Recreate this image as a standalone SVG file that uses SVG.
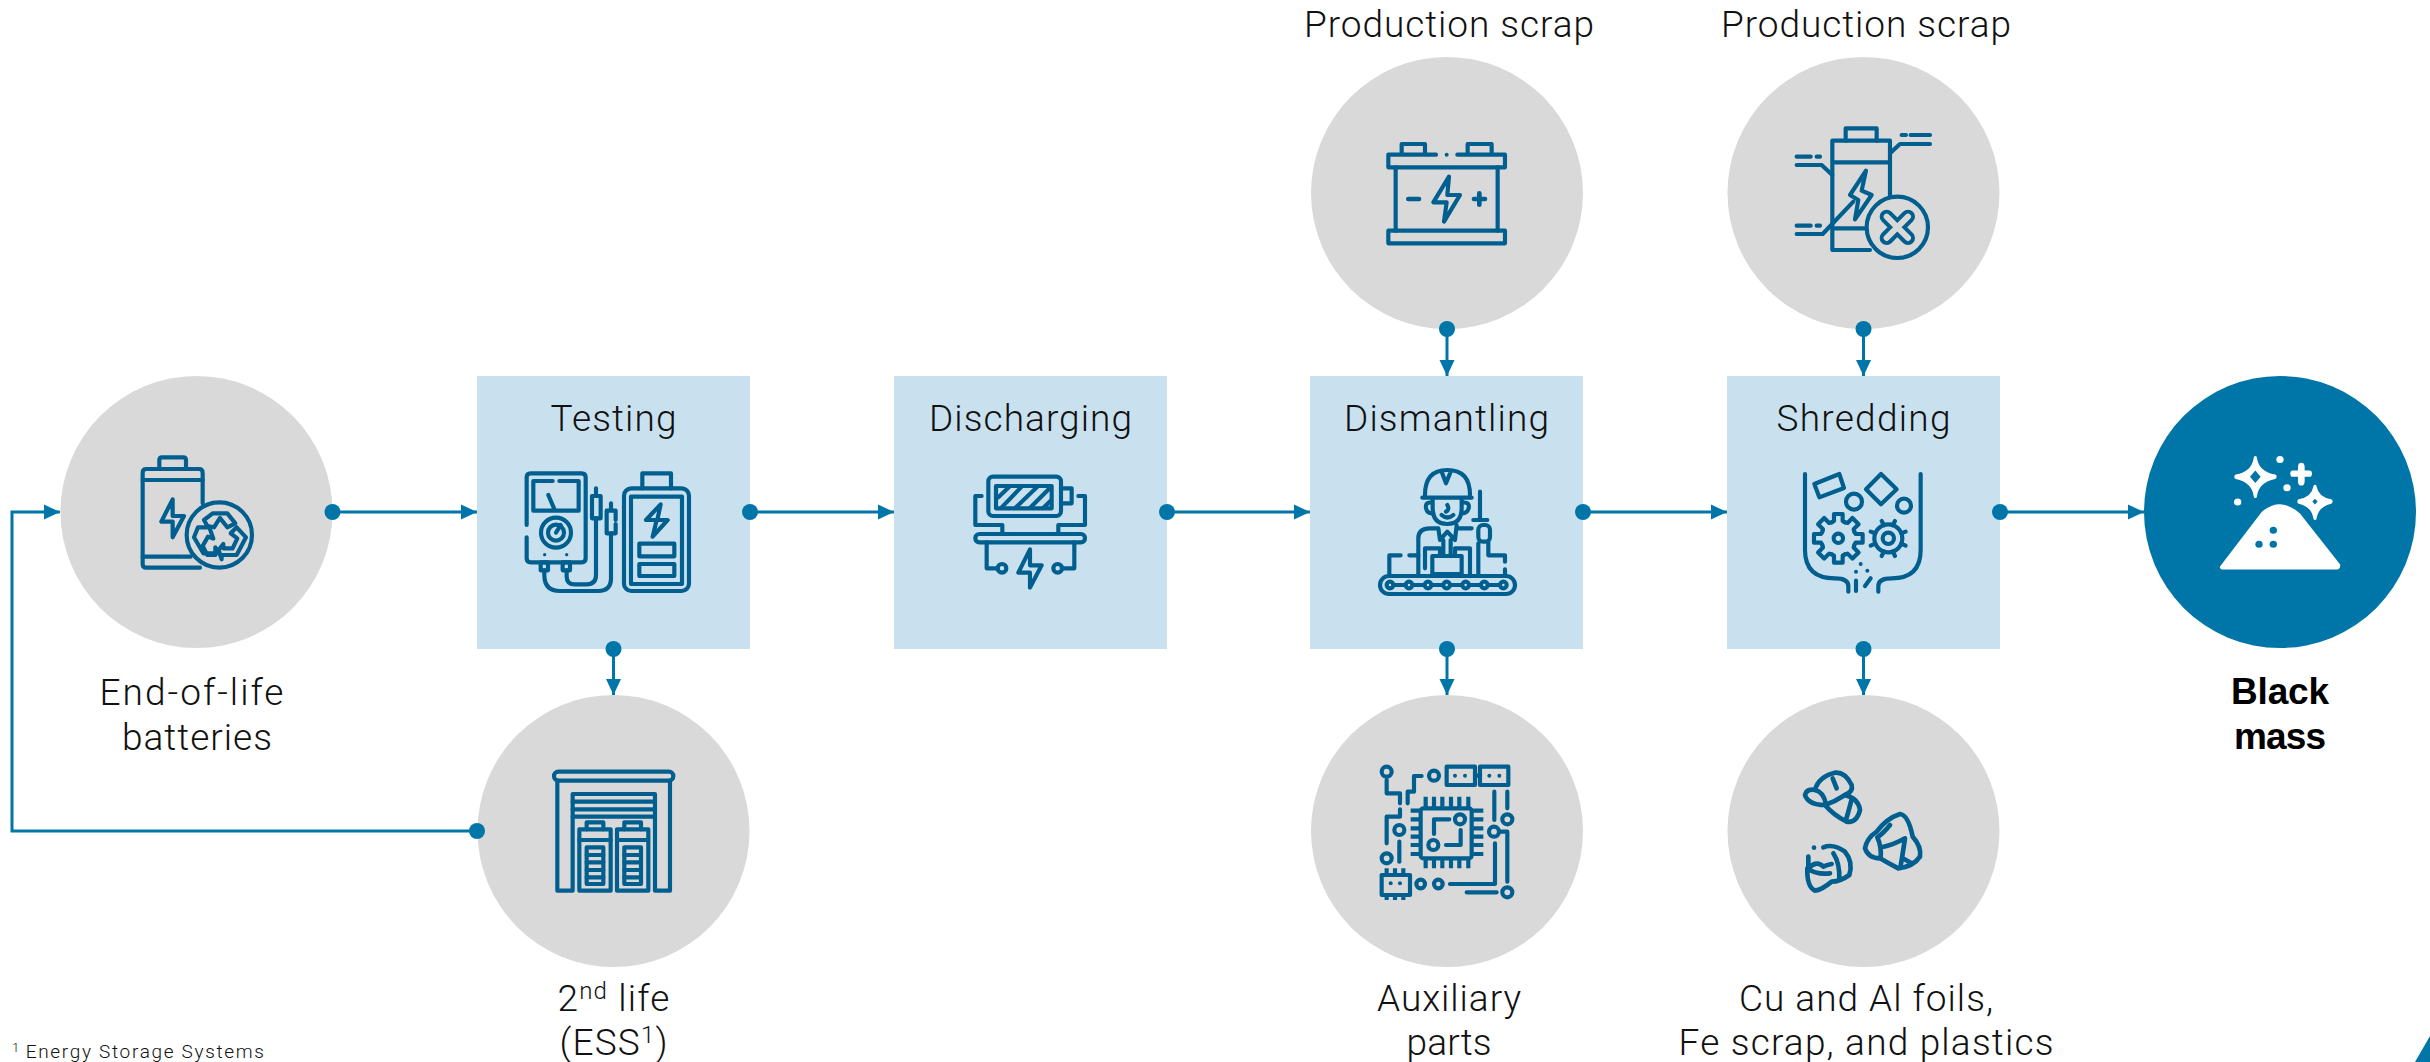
<svg xmlns="http://www.w3.org/2000/svg" width="2430" height="1062" viewBox="0 0 2430 1062">
<style>
.c{fill:#d9d9d9}.b{fill:#c9e1ee}
.ic{fill:none;stroke:#005f8f;stroke-width:12.500;stroke-linecap:round;stroke-linejoin:round}
.ic .f{fill:#005f8f;stroke:none}
.t{font-family:Roboto,"Noto Sans",sans-serif;font-size:37px;font-weight:300;fill:#111;text-anchor:middle}
.bt{font-family:"Liberation Sans",Arial,sans-serif;font-size:37px;font-weight:700;fill:#000;text-anchor:middle}
.fn{font-family:Roboto,"Noto Sans",sans-serif;font-size:19px;font-weight:300;fill:#111}
.ln{fill:none;stroke:#0076a8;stroke-width:3;marker-start:url(#dot);marker-end:url(#arr)}
</style>
<defs>
<marker id="arr" markerUnits="userSpaceOnUse" markerWidth="16" markerHeight="16" refX="16" refY="8" orient="auto"><path d="M0 0.5L16 8L0 15.500Z" fill="#0076a8"/></marker>
<marker id="dot" markerUnits="userSpaceOnUse" markerWidth="18" markerHeight="18" refX="9" refY="9"><circle cx="9" cy="9" r="8" fill="#0076a8"/></marker>
<g id="gs"><path d="M48 -20L52 -13H73V13H52L48 20"/></g>
</defs>

<g id="node-eol">
<circle class="c" cx="196.500" cy="512" r="136"/>
<g class="ic" transform="translate(120 440) scale(.3333)">
<path d="M118 85V60Q118 52 126 52H190Q198 52 198 60V85"/>
<path d="M248 190V98Q248 87 237 87H79Q68 87 68 98V372Q68 383 79 383H240"/>
<path d="M68 120H248M68 350H212"/>
<path d="M158 178L124 245H158V292L192 228H158Z"/>
<circle cx="298" cy="285" r="98"/>
<path d="M262 258L252 240L278 220H322L346 250L322 262L300 234L282 262Z"/>
<path d="M350 262L378 292L350 345H305V358L296 330L310 312V325H338L352 295L332 280Z"/>
<path d="M234 262H268L280 296L264 290L248 318L262 345H286V322L296 340H250L222 292Z"/>
</g>
<text class="t" x="191.500" y="705" textLength="184">End-of-life</text>
<text class="t" x="197" y="750" textLength="150">batteries</text>
</g>

<g id="node-testing">
<rect class="b" x="477" y="376" width="273" height="273"/>
<text class="t" x="613.500" y="431" textLength="126">Testing</text>
<g class="ic" transform="translate(500 450) scale(.3333)">
<path d="M80 225V82Q80 70 92 70H245Q257 70 257 82V325Q257 337 245 337H92Q80 337 80 325V262"/>
<path d="M158 93H100V182H236V93H178M145 135L165 182"/>
<circle cx="168" cy="248" r="45"/><circle cx="168" cy="248" r="24"/><path d="M168 248L182 225"/>
<circle class="f" cx="134" cy="314" r="5"/><circle class="f" cx="200" cy="314" r="5"/>
<rect x="122" y="337" width="22" height="24"/><rect x="188" y="337" width="22" height="24"/>
<path d="M133 361V375Q133 423 180 423H295Q333 423 333 385V250M200 361V380Q200 403 225 403H260Q288 403 288 375V205"/>
<rect x="276" y="138" width="26" height="67"/><path d="M288 115V138M333 160V182M347 210V182H320V250H347V222"/>
<path d="M427 115V70H513V115"/>
<rect x="372" y="115" width="195" height="308" rx="22"/>
<rect x="393" y="140" width="153" height="262"/>
<path d="M482 163L438 210H470L458 260L503 210H472Z"/>
<rect x="418" y="281" width="105" height="38"/><rect x="418" y="342" width="105" height="36"/>
</g>
</g>

<g id="node-discharging">
<rect class="b" x="894" y="376" width="273" height="273"/>
<text class="t" x="1030.500" y="431" textLength="203">Discharging</text>
<g class="ic" transform="translate(960 460) scale(.3333)">
<rect x="85" y="50" width="218" height="118" rx="14"/>
<rect x="108" y="78" width="167" height="67"/>
<path d="M115 112L148 80M125 142L185 80M168 142L232 80M212 142L272 82M252 142L272 122"/>
<path d="M303 85H335V130H303"/>
<path d="M65 108H46V195H127V222M355 108H375V195H295V222"/>
<rect x="46" y="222" width="329" height="25" rx="12"/>
<path d="M80 247V325H112M343 247V325H308"/>
<circle cx="126" cy="325" r="13"/><circle cx="293" cy="325" r="13"/>
<path d="M210 268L175 338H210V383L245 316H210Z"/>
</g>
</g>

<g id="node-dismantling">
<rect class="b" x="1310" y="376" width="273" height="273"/>
<text class="t" x="1446.500" y="431" textLength="205">Dismantling</text>
<g class="ic" transform="translate(1360 450) scale(.3333)">
<rect x="60" y="378" width="405" height="54" rx="27"/>
<path d="M90 405H430"/>
<g fill="#c9e1ee"><circle cx="90" cy="405" r="10"/><circle cx="147" cy="405" r="10"/><circle cx="204" cy="405" r="10"/><circle cx="260" cy="405" r="10"/><circle cx="317" cy="405" r="10"/><circle cx="373" cy="405" r="10"/><circle cx="430" cy="405" r="10"/></g>
<path d="M195 135Q195 60 262 60Q330 60 330 135M187 143H335M245 65L258 100L272 65"/>
<path d="M218 150V175Q218 222 262 222Q305 222 305 175V150"/>
<path d="M215 158Q195 155 198 175Q202 192 220 190M308 158Q330 155 326 175Q322 190 305 190"/>
<path d="M245 195Q262 210 280 195M262 165Q270 178 258 185"/>
<path d="M175 372V265Q175 235 210 235H235M290 235H335M235 235L240 270L262 245L285 270L290 225M250 270V315M272 270V315"/>
<rect x="217" y="318" width="88" height="54"/>
<path d="M195 355V295H240V318M285 318V295H330V372"/>
<path d="M122 316H88V372M148 316H175"/>
<path d="M360 125V210M340 210H382M355 372V280"/>
<rect x="355" y="225" width="35" height="50" rx="14"/>
<path d="M385 275V316H435V335M435 358V372"/>
</g>
</g>

<g id="node-shredding">
<rect class="b" x="1727" y="376" width="273" height="273"/>
<text class="t" x="1863.500" y="431" textLength="174">Shredding</text>
<g class="ic" transform="translate(1780 460) scale(.3333)">
<path d="M75 42V270Q75 355 165 355Q205 355 205 378V395M422 42V270Q422 355 335 355Q295 355 295 378V395"/>
<path d="M103 72L178 42L192 84L118 112Z"/>
<path d="M303 42L350 88L303 133L258 88Z"/>
<circle cx="222" cy="125" r="24"/><circle cx="372" cy="137" r="21"/>
<g transform="translate(175 235)"><use href="#gs"/><use href="#gs" transform="rotate(45)"/><use href="#gs" transform="rotate(90)"/><use href="#gs" transform="rotate(135)"/><use href="#gs" transform="rotate(180)"/><use href="#gs" transform="rotate(225)"/><use href="#gs" transform="rotate(270)"/><use href="#gs" transform="rotate(315)"/></g>
<circle cx="175" cy="235" r="14"/>
<circle cx="325" cy="235" r="42"/><circle cx="325" cy="235" r="17"/>
<path d="M305 183L312 196M345 183L338 196M377 215L364 220M377 257L364 251M345 288L338 274M305 288L312 274M272 257L286 251M272 215L286 220"/>
<circle class="f" cx="242" cy="312" r="6"/><circle class="f" cx="228" cy="335" r="6"/><circle class="f" cx="262" cy="332" r="6"/>
<path d="M228 362V393M255 378L272 355"/>
</g>
</g>

<g id="node-blackmass">
<circle cx="2280" cy="512" r="136" fill="#0076a8"/>
<g transform="translate(2140 370) scale(.3333 .4413)">
<path fill="#fff" d="M240 445L365 322Q420 285 480 325L600 440Q603 452 590 452H250Q238 452 240 445Z"/>
<g fill="#0076a8"><ellipse cx="400" cy="363" rx="11" ry="8"/><ellipse cx="400" cy="395" rx="11" ry="8"/><ellipse cx="357" cy="395" rx="11" ry="8"/></g>
<path fill="#fff" stroke="#fff" stroke-width="10" stroke-linejoin="round" d="M346 200Q352 234 405 242Q352 250 346 285Q340 250 288 242Q340 234 346 200Z"/>
<path fill="#0076a8" d="M346 228L362 242L346 256L330 242Z"/>
<path fill="#fff" stroke="#fff" stroke-width="10" stroke-linejoin="round" d="M525 265Q531 292 573 298Q531 305 525 335Q519 305 477 298Q519 292 525 265Z"/>
<path fill="#0076a8" d="M525 292L533 298L525 305L517 298Z"/>
<path fill="none" stroke="#fff" stroke-width="14" stroke-linecap="round" d="M458 235H509"/>
<path fill="none" stroke="#fff" stroke-width="20" stroke-linecap="round" d="M484 220V252"/>
<g fill="#fff"><ellipse cx="420" cy="203" rx="11" ry="8"/><ellipse cx="441" cy="267" rx="11" ry="8"/><ellipse cx="293" cy="299" rx="11" ry="8"/></g>
</g>
<text class="bt" x="2280" y="704" textLength="98">Black</text>
<text class="bt" x="2280" y="749" textLength="92">mass</text>
</g>

<g id="node-scrap-1">
<circle class="c" cx="1447" cy="193" r="136"/>
<text class="t" x="1449" y="37" textLength="290">Production scrap</text>
<g class="ic" transform="translate(1370 130) scale(.3333)">
<path d="M95 68V42H165V68M293 68V42H365V68"/>
<path d="M198 74H55V112H405V74H262"/>
<circle class="f" cx="230" cy="74" r="6"/>
<path d="M77 112V302M383 112V302"/>
<rect x="55" y="302" width="350" height="38"/>
<path d="M115 207H147M312 207H345M328 190V224" stroke-width="14"/>
<path d="M237 140L190 217H230L222 275L270 195H232Z"/>
</g>
</g>

<g id="node-scrap-2">
<circle class="c" cx="1863.500" cy="193" r="136"/>
<text class="t" x="1866" y="37" textLength="290">Production scrap</text>
<g class="ic" transform="translate(1780 120) scale(.3333)">
<path d="M197 62V25H290V62"/>
<path d="M330 228V62H157V390H270M157 127H330M157 325H262"/>
<path d="M50 110H92M110 110H120M50 135H125L157 165M50 317H92M110 317H120M50 342H128L220 245M450 45H392M378 45H365M450 72H360L330 100"/>
<path d="M258 152L210 225L235 240L225 298L275 225L245 212Z"/>
<circle cx="352" cy="322" r="92" fill="#d9d9d9"/>
<path d="M320 290L384 354M384 290L320 354" stroke-width="42"/>
<path d="M320 290L384 354M384 290L320 354" stroke="#d9d9d9" stroke-width="18"/>
</g>
</g>

<g id="node-2ndlife">
<circle class="c" cx="613.500" cy="831" r="136"/>
<g class="ic" transform="translate(540 760) scale(.3333)">
<rect x="42" y="35" width="358" height="27" rx="13"/>
<path d="M52 62V392H98V102H345V392H390V62"/>
<path d="M98 125H345M98 148H345M98 170H345"/>
<path d="M140 208V187H190V208"/><rect x="118" y="208" width="94" height="184"/><path d="M118 240H212"/><rect x="140" y="262" width="50" height="110"/><path d="M140 285H190M140 307H190M140 330H190M140 352H190"/>
<path d="M253 208V187H303V208"/><rect x="231" y="208" width="94" height="184"/><path d="M231 240H325"/><rect x="253" y="262" width="50" height="110"/><path d="M253 285H303M253 307H303M253 330H303M253 352H303"/>
</g>
<text class="t" x="613.500" y="1011" textLength="112">2<tspan font-size="24" dy="-12">nd</tspan><tspan dy="12"> life</tspan></text>
<text class="t" x="613.500" y="1055" textLength="108">(ESS<tspan font-size="24" dy="-12">1</tspan><tspan dy="12">)</tspan></text>
</g>

<g id="node-auxiliary">
<circle class="c" cx="1447" cy="831" r="136"/>
<g class="ic" transform="translate(1370 760) scale(.3333)" stroke-linecap="butt">
<rect x="152" y="145" width="153" height="150" rx="8"/>
<path stroke-linecap="butt" d="M167 110V145M192 110V145M217 110V145M243 110V145M268 110V145M295 110V145M167 295V325M192 295V325M217 295V325M243 295V325M268 295V325M295 295V325M122 152H152M122 178H152M122 205H152M122 230H152M122 255H152M122 282H152M305 152H340M305 178H340M305 205H340M305 230H340M305 255H340M305 282H340"/>
<path d="M238 178H192V222M272 210V255H228"/>
<circle cx="270" cy="178" r="15"/><circle cx="190" cy="255" r="15"/>
<circle cx="50" cy="35" r="15"/><path d="M50 60V100H90V130M155 48H132V95H113V130"/><circle cx="192" cy="47" r="15"/>
<rect x="230" y="20" width="85" height="55"/><rect x="330" y="20" width="85" height="55"/><path d="M315 47H330"/>
<circle class="f" cx="255" cy="47" r="6"/><circle class="f" cx="285" cy="47" r="6"/><circle class="f" cx="358" cy="47" r="6"/><circle class="f" cx="388" cy="47" r="6"/>
<path d="M90 148V170H50V250"/><circle cx="88" cy="210" r="15"/><path d="M88 245V305"/><circle cx="50" cy="295" r="15"/>
<rect x="35" y="345" width="85" height="60"/><path stroke-linecap="butt" d="M50 325V345M75 325V345M100 325V345M50 405V420M75 405V420M100 405V420"/>
<circle class="f" cx="62" cy="370" r="6"/><circle class="f" cx="90" cy="370" r="6"/>
<circle cx="152" cy="372" r="13"/><circle cx="205" cy="372" r="13"/>
<path d="M240 372H375V250"/><circle cx="372" cy="215" r="15"/><path d="M390 215H412V365M290 397H380"/><circle cx="412" cy="397" r="15"/>
<circle cx="412" cy="178" r="15"/><path d="M373 95V180M412 95V145"/>
</g>
<text class="t" x="1449" y="1011" textLength="144">Auxiliary</text>
<text class="t" x="1449" y="1055" textLength="85">parts</text>
</g>

<g id="node-foils">
<circle class="c" cx="1863.500" cy="831" r="136"/>
<g class="ic" style="stroke-width:14" transform="translate(1790 760) scale(.3333)">
<path d="M75 90Q85 50 135 38Q165 35 185 75Q190 95 165 105Q205 115 210 150Q200 190 170 185Q130 165 105 135Q55 135 45 105Q50 85 75 90Z"/>
<path d="M75 90Q100 95 108 132M128 55L140 85M105 135Q135 125 165 105M185 118Q178 145 168 180"/>
<path d="M260 215Q290 175 330 162Q355 165 368 230Q395 260 390 290Q370 320 325 325Q295 310 270 295Q235 295 225 265Q230 235 260 215Z"/>
<path d="M262 232Q280 220 300 195M262 232Q275 260 272 295M275 262Q310 255 345 235M345 235Q340 270 332 318M338 295L365 310"/>
<path d="M100 262Q130 250 165 275Q190 305 178 345Q150 365 125 365Q95 390 75 392Q50 380 52 325M55 290V325Q80 300 100 320Q110 315 125 312M52 325Q80 345 120 340M130 280Q150 310 148 360"/>
<circle class="f" cx="72" cy="263" r="7"/>
</g>
<text class="t" x="1866" y="1011" textLength="254">Cu and Al foils,</text>
<text class="t" x="1866" y="1055" textLength="375">Fe scrap, and plastics</text>
</g>

<text class="fn" x="12" y="1058" textLength="252"><tspan font-size="13" dy="-6">1 </tspan><tspan dy="6">Energy Storage Systems</tspan></text>
<path d="M2415 1062L2430 1036V1062Z" fill="#0076a8"/>

<g id="connectors">
<path class="ln" d="M332.500 512H477"/>
<path class="ln" d="M750 512H894"/>
<path class="ln" d="M1167 512H1310"/>
<path class="ln" d="M1583 512H1727"/>
<path class="ln" d="M2000 512H2144"/>
<path class="ln" d="M613.500 649V695"/>
<path class="ln" d="M1447 649V695"/>
<path class="ln" d="M1863.500 649V695"/>
<path class="ln" d="M1447 329V376"/>
<path class="ln" d="M1863.500 329V376"/>
<path class="ln" d="M477 831H12V512H60"/>
</g>
</svg>
